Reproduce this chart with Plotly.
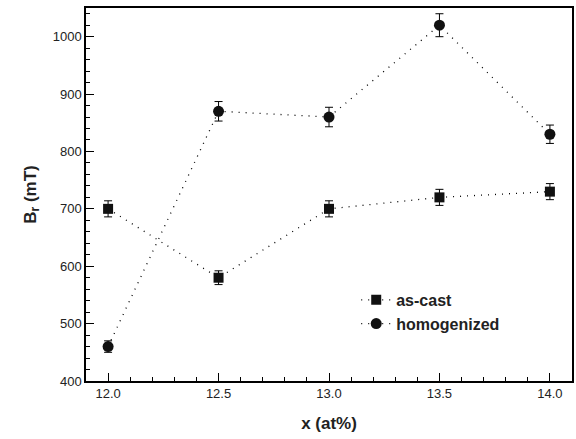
import plotly.graph_objects as go

x_vals = [12.0, 12.5, 13.0, 13.5, 14.0]
as_cast = [700, 580, 700, 720, 730]
as_cast_err = [14, 12, 14, 14, 14]
homogenized = [460, 870, 860, 1020, 830]
homogenized_err = [10, 17, 17, 20, 16]

fig = go.Figure()
fig.add_trace(go.Scatter(
    x=x_vals, y=as_cast, name="as-cast", mode="lines+markers",
    line=dict(color="black", width=1.3, dash="1px,6px"),
    marker=dict(symbol="square", size=10, color="#111"),
    error_y=dict(type="data", array=as_cast_err, color="black", thickness=1, width=4),
))
fig.add_trace(go.Scatter(
    x=x_vals, y=homogenized, name="homogenized", mode="lines+markers",
    line=dict(color="black", width=1.3, dash="1px,6px"),
    marker=dict(symbol="circle", size=11, color="#111"),
    error_y=dict(type="data", array=homogenized_err, color="black", thickness=1, width=4),
))

fig.update_layout(
    width=576, height=439,
    margin=dict(l=86, r=4, t=8, b=58),
    paper_bgcolor="white", plot_bgcolor="white",
    font=dict(family="Liberation Sans, Arial, sans-serif", size=13, color="#222"),
    showlegend=True,
    legend=dict(x=0.556, y=0.263, xanchor="left", yanchor="top",
                font=dict(size=16, color="#222", family="Liberation Sans, Arial, sans-serif", weight="bold"),
                bgcolor="rgba(0,0,0,0)", tracegroupgap=0),
)
fig.update_xaxes(
    range=[11.9, 14.1], tickvals=x_vals, ticktext=["12.0", "12.5", "13.0", "13.5", "14.0"],
    ticks="inside", ticklen=8, tickwidth=1, tickcolor="black",
    minor=dict(dtick=0.1, ticks="inside", ticklen=4, tickcolor="black", showgrid=False),
    showline=True, linecolor="black", linewidth=1.5, mirror=True, showgrid=False, zeroline=False,
    title=dict(text="x (at%)", font=dict(size=17, weight="bold", color="#222"), standoff=17),
    tickfont=dict(size=13, color="#222"), automargin=False,
)
fig.update_yaxes(
    range=[400, 1050], tickvals=[400, 500, 600, 700, 800, 900, 1000],
    ticks="inside", ticklen=8, tickwidth=1, tickcolor="black",
    minor=dict(dtick=20, ticks="inside", ticklen=4, tickcolor="black", showgrid=False),
    showline=True, linecolor="black", linewidth=1.5, mirror=True, showgrid=False, zeroline=False,
    title=dict(text="B<sub>r</sub> (mT)", font=dict(size=17, weight="bold", color="#222"), standoff=12),
    tickfont=dict(size=13, color="#222"), automargin=False,
)

fig.write_html("out.html", config={"displayModeBar": False},
               post_script="document.body.style.margin='0';")
